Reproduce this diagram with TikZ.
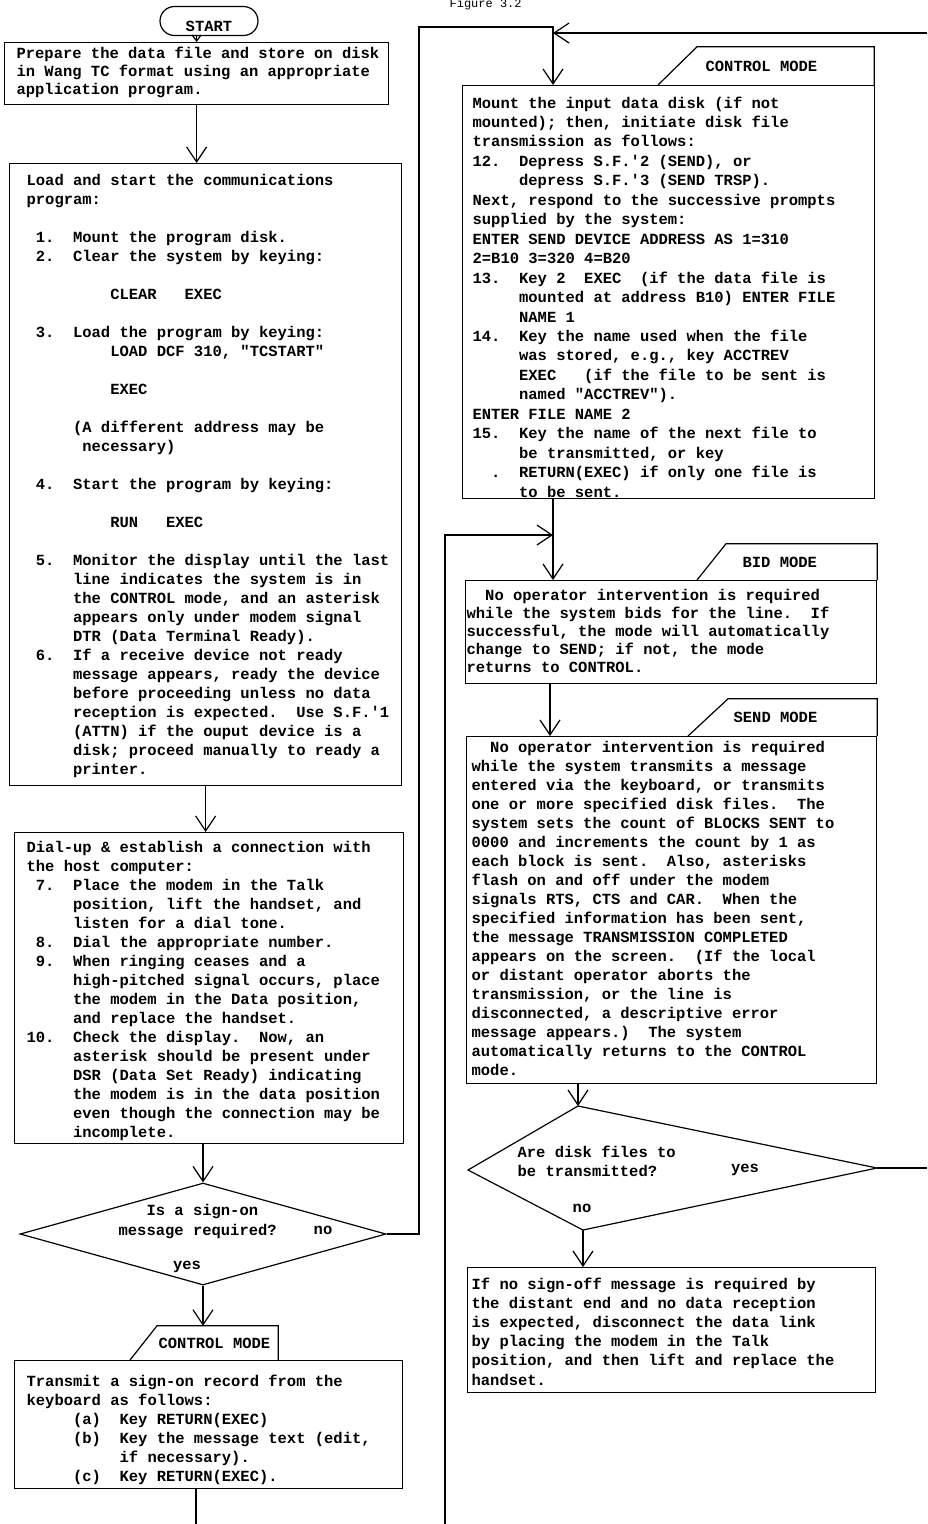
\documentclass[tikz,border=0pt]{standalone}
\usepackage{fontspec}
\newfontfamily\typer{Liberation Mono}[WordSpace={1,0,0}]
\usetikzlibrary{arrows.meta,shapes.geometric,shapes.misc}

% indent by character cells of the typewriter face
\newcommand{\ind}[1]{\hspace*{\dimexpr #1em*3/5\relax}}
\newcommand{\apos}{\textquotesingle}

\tikzset{
  box/.style={draw, line width=1.2pt, anchor=north west, inner sep=0pt},
  txt/.style={font=\typer\bfseries\fontsize{15.5}{#1}\selectfont\frenchspacing,
    align=left, inner sep=0pt, anchor=north west},
  txt/.default=19,
  modetab/.style={font=\typer\bfseries\fontsize{15.5}{19}\selectfont,
    anchor=south west, align=left, inner ysep=0pt},
  lbl/.style={font=\typer\bfseries\fontsize{15.5}{19}\selectfont, inner sep=0pt},
  decision/.style={draw, diamond, line width=1.2pt, inner sep=0pt},
  terminal/.style={draw, rounded rectangle, line width=1.2pt, inner sep=0pt,
    font=\typer\bfseries\fontsize{15.5}{19}\selectfont,
    text height=21pt, text depth=0pt},
}

\begin{document}
\begin{tikzpicture}[x=1pt,y=-1pt, line width=1.2pt,
    >={Straight Barb[length=15pt,width=20pt]}]
\useasboundingbox (0,0) rectangle (927,1524);

\node[anchor=base west, inner sep=0pt, font=\typer\fontsize{12}{14}\selectfont]
  (figno) at (449,7) {Figure 3.2};

% left column
\node[terminal, minimum width=98, minimum height=29] (start) at (209,21) {START};

\node[box, minimum width=384, minimum height=62] (prep) at (4,42) {};
\node[txt=18] (preptext) at (16,46) {Prepare the data file and store on disk\\
  in Wang TC format using an appropriate\\
  application program.};

\node[box, minimum width=392, minimum height=622] (load) at (9,163) {};
\node[txt] (loadtext) at (26,174) {Load and start the communications\\
  program:\\[19pt]
  \ind{1}1.~~Mount the program disk.\\
  \ind{1}2.~~Clear the system by keying:\\[19pt]
  \ind{9}CLEAR~~~EXEC\\[19pt]
  \ind{1}3.~~Load the program by keying:\\
  \ind{9}LOAD DCF 310, "TCSTART"\\[19pt]
  \ind{9}EXEC\\[19pt]
  \ind{5}(A different address may be\\
  \ind{6}necessary)\\[19pt]
  \ind{1}4.~~Start the program by keying:\\[19pt]
  \ind{9}RUN~~~EXEC\\[19pt]
  \ind{1}5.~~Monitor the display until the last\\
  \ind{5}line indicates the system is in\\
  \ind{5}the CONTROL mode, and an asterisk\\
  \ind{5}appears only under modem signal\\
  \ind{5}DTR (Data Terminal Ready).\\
  \ind{1}6.~~If a receive device not ready\\
  \ind{5}message appears, ready the device\\
  \ind{5}before proceeding unless no data\\
  \ind{5}reception is expected.~~Use S.F.\apos1\\
  \ind{5}(ATTN) if the ouput device is a\\
  \ind{5}disk; proceed manually to ready a\\
  \ind{5}printer.};

\node[box, minimum width=389, minimum height=311] (dial) at (14,832) {};
\node[txt] (dialtext) at (26,841) {Dial-up \& establish a connection with\\
  the host computer:\\
  \ind{1}7.~~Place the modem in the Talk\\
  \ind{5}position, lift the handset, and\\
  \ind{5}listen for a dial tone.\\
  \ind{1}8.~~Dial the appropriate number.\\
  \ind{1}9.~~When ringing ceases and a\\
  \ind{5}high-pitched signal occurs, place\\
  \ind{5}the modem in the Data position,\\
  \ind{5}and replace the handset.\\
  10.~~Check the display.~~Now, an\\
  \ind{5}asterisk should be present under\\
  \ind{5}DSR (Data Set Ready) indicating\\
  \ind{5}the modem is in the data position\\
  \ind{5}even though the connection may be\\
  \ind{5}incomplete.};

\node[decision, minimum width=366, minimum height=102] (signon) at (203,1234) {};
\node[txt=20] (signq) at (118,1204) {\ind{3}Is a sign-on\\message required?};
\node[lbl] (signno) at (323,1230) {no};
\node[lbl] (signyes) at (187,1267) {yes};

\node[box, minimum width=388, minimum height=128] (signbox) at (14,1360) {};
\node[modetab, minimum height=33, text width=118, inner xsep=1] (tabsign)
  at (157,1360) {CONTROL\ind{1}MODE};
\draw ([xshift=-27pt]tabsign.south west) -- (tabsign.north west)
  -- (tabsign.north east) -- (tabsign.south east);
\node[txt] (signtext) at (26,1374) {Transmit a sign-on record from the\\
  keyboard as follows:\\
  \ind{5}(a)~~Key RETURN(EXEC)\\
  \ind{5}(b)~~Key the message text (edit,\\
  \ind{10}if necessary).\\
  \ind{5}(c)~~Key RETURN(EXEC).};

% right column
\node[box, minimum width=412, minimum height=413] (ctl2) at (462,85) {};
\node[modetab, minimum height=37, text width=160, inner xsep=8] (tabctl)
  at (697,85) {CONTROL\ind{1}MODE};
\draw ([xshift=-39pt]tabctl.south west) -- (tabctl.north west)
  -- (tabctl.north east) -- (tabctl.south east);
\node[txt=19.45] (ctltext) at (472,96) {Mount the input data disk (if not\\
  mounted); then, initiate disk file\\
  transmission as follows:\\
  12.~~Depress S.F.\apos2 (SEND), or\\
  \ind{5}depress S.F.\apos3 (SEND TRSP).\\
  Next, respond to the successive prompts\\
  supplied by the system:\\
  ENTER SEND DEVICE ADDRESS AS 1=310\\
  2=B10 3=320 4=B20\\
  13.~~Key 2~~EXEC~~(if the data file is\\
  \ind{5}mounted at address B10) ENTER FILE\\
  \ind{5}NAME 1\\
  14.~~Key the name used when the file\\
  \ind{5}was stored, e.g., key ACCTREV\\
  \ind{5}EXEC~~~(if the file to be sent is\\
  \ind{5}named "ACCTREV").\\
  ENTER FILE NAME 2\\
  15.~~Key the name of the next file to\\
  \ind{5}be transmitted, or key\\
  \ind{2}.~~RETURN(EXEC) if only one file is\\
  \ind{5}to be sent.};

\node[box, minimum width=411, minimum height=103] (bid) at (465,580) {};
\node[modetab, minimum height=35, text width=118, inner xsep=16] (tabbid)
  at (726,580) {BID\ind{1}MODE};
\draw ([xshift=-29pt]tabbid.south west) -- (tabbid.north west)
  -- (tabbid.north east) -- (tabbid.south east);
\node[txt=18] (bidtext) at (466,589) {\ind{2}No operator intervention is required\\
  while the system bids for the line.~~If\\
  successful, the mode will automatically\\
  change to SEND; if not, the mode\\
  returns to CONTROL.};

\node[box, minimum width=410, minimum height=347] (send) at (466,736) {};
\node[modetab, minimum height=36, text width=138, inner xsep=5] (tabsend)
  at (728,736) {SEND\ind{1}MODE};
\draw ([xshift=-40pt]tabsend.south west) -- (tabsend.north west)
  -- (tabsend.north east) -- (tabsend.south east);
\node[txt] (sendtext) at (471,741) {\ind{2}No operator intervention is required\\
  while the system transmits a message\\
  entered via the keyboard, or transmits\\
  one or more specified disk files.~~The\\
  system sets the count of BLOCKS SENT to\\
  0000 and increments the count by 1 as\\
  each block is sent.~~Also, asterisks\\
  flash on and off under the modem\\
  signals RTS, CTS and CAR.~~When the\\
  specified information has been sent,\\
  the message TRANSMISSION COMPLETED\\
  appears on the screen.~~(If the local\\
  or distant operator aborts the\\
  transmission, or the line is\\
  disconnected, a descriptive error\\
  message appears.)~~The system\\
  automatically returns to the CONTROL\\
  mode.};

% skewed decision
\coordinate (qtop) at (578,1106);
\coordinate (qright) at (877,1168);
\coordinate (qbot) at (583,1230);
\coordinate (qleft) at (468,1170);
\draw (qtop) -- (qright) -- (qbot) -- (qleft) -- cycle;
\node[txt] (fileq) at (517,1145) {Are disk files to\\be transmitted?};
\node[lbl] (fileyes) at (745,1170) {yes};
\node[lbl] (fileno) at (582,1208) {no};

\node[box, minimum width=408, minimum height=125] (final) at (467,1267) {};
\node[txt=19.2] (finaltext) at (471,1277) {If no sign-off message is required by\\
  the distant end and no data reception\\
  is expected, disconnect the data link\\
  by placing the modem in the Talk\\
  position, and then lift and replace the\\
  handset.};

% connectors
\coordinate (ctlin) at ([xshift=91pt]ctl2.north west);
\coordinate (bidin) at ([xshift=88pt]bid.north west);
\coordinate (sendin) at ([xshift=84pt]send.north west);
\coordinate (noup) at (419,27);
\coordinate (yesback) at (927,33);
\coordinate (loopup) at (445,1524);
\coordinate (loopjoin) at (553,535);
\coordinate (tailL) at (196,1524);

\draw[-{Straight Barb[length=6pt,width=9pt]}] (start.south -| prep.north) -- (prep.north);
\draw[->] (prep.south) -- (prep.south |- load.north);
\draw[->] (load.south) -- (load.south |- dial.north);
\draw[->] (dial.south -| signon.north) -- (signon.north);
\draw[->] (signon.south) -- (signon.south |- tabsign.north);
\draw[->] (signon.east) -| (noup) -| (ctlin);
\draw[->] (yesback) -- (yesback -| ctlin);
\draw[->] (ctl2.south -| bidin) -- (bidin);
\draw[->] (loopup) |- (loopjoin);
\draw[->] (bid.south -| sendin) -- (sendin);
\draw[->] (send.south -| qtop) -- (qtop);
\draw[->] (qbot) -- (qbot |- final.north);
\draw (qright) -- (qright -| yesback);
\draw (signbox.south -| tailL) -- (tailL);
\end{tikzpicture}
\end{document}
